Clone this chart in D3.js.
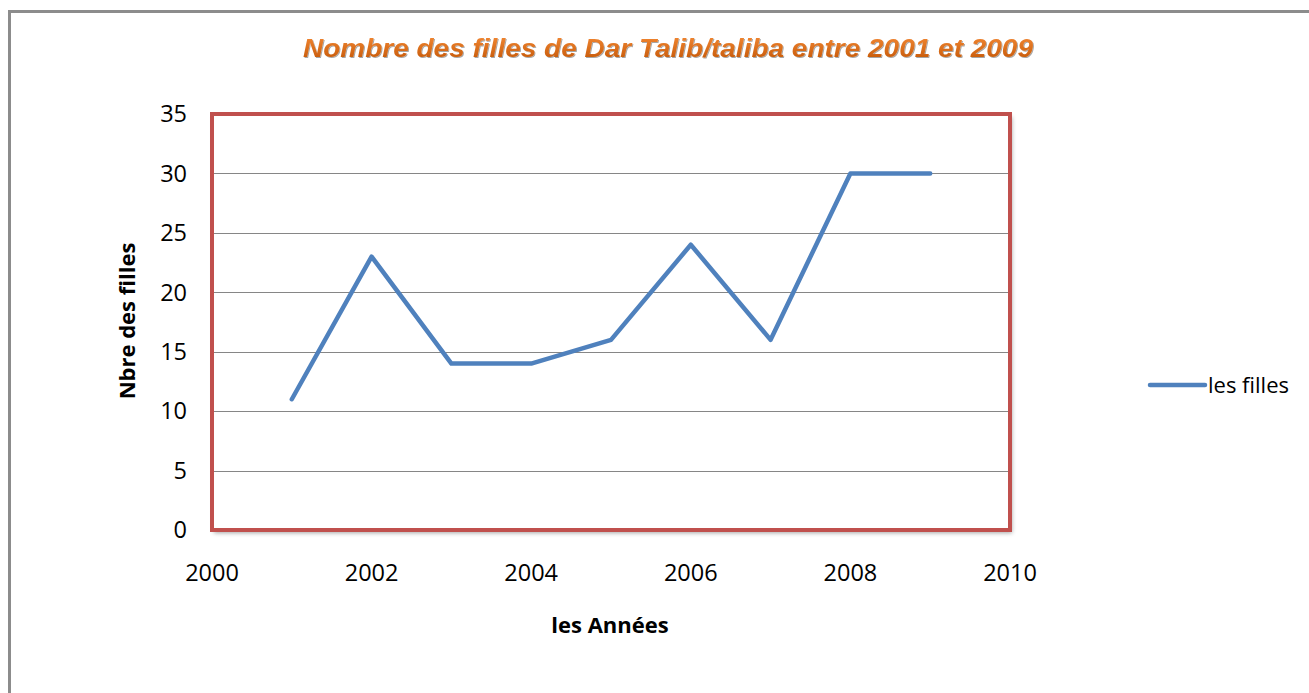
<!DOCTYPE html>
<html>
<head>
<meta charset="utf-8">
<script src="https://cdn.jsdelivr.net/npm/d3@7"></script>
<style>
  body { margin: 0; background: #fff; }
  svg { display: block; }
  .tick-label { font-family: "Open Sans", sans-serif; font-size: 23.5px; fill: #000; }
  .legend-label { font-family: "Open Sans", sans-serif; font-size: 22px; fill: #000; }
  .axis-title { font-family: "Open Sans", sans-serif; font-size: 22px; font-weight: bold; fill: #000; }
</style>
</head>
<body>
<div id="chart"></div>
<script>
// data
var years = [2001, 2002, 2003, 2004, 2005, 2006, 2007, 2008, 2009];
var filles = [11, 23, 14, 14, 16, 24, 16, 30, 30];
var yTicks = [0, 5, 10, 15, 20, 25, 30, 35];
var xTicks = [2000, 2002, 2004, 2006, 2008, 2010];
var seriesName = "les filles";
var titleText = "Nombre des filles de Dar Talib/taliba entre 2001 et 2009";

var width = 1309, height = 693;
var margin = {top: 114, right: 299, bottom: 163, left: 212};
var plotW = width - margin.left - margin.right;
var plotH = height - margin.top - margin.bottom;

var svg = d3.select("#chart").append("svg")
    .attr("width", width)
    .attr("height", height);

var defs = svg.append("defs");
var shadow = defs.append("filter").attr("id", "shadow")
    .attr("x", "-5%").attr("y", "-5%").attr("width", "110%").attr("height", "110%");
shadow.append("feDropShadow")
    .attr("dx", 2).attr("dy", 3).attr("stdDeviation", 2)
    .attr("flood-color", "#000").attr("flood-opacity", 0.35);

var tshadow = defs.append("filter").attr("id", "tshadow");
tshadow.append("feDropShadow")
    .attr("dx", 1).attr("dy", 1).attr("stdDeviation", 0.6)
    .attr("flood-color", "#000").attr("flood-opacity", 0.35);

var grad = defs.append("linearGradient").attr("id", "titleGrad")
    .attr("x1", 0).attr("y1", 0).attr("x2", 0).attr("y2", 1);
grad.append("stop").attr("offset", "0%").attr("stop-color", "#f58a36");
grad.append("stop").attr("offset", "100%").attr("stop-color", "#c25606");

// outer frame of the chart object
svg.append("rect")
    .attr("x", 9.5).attr("y", 11.5)
    .attr("width", width + 20).attr("height", height + 20)
    .attr("fill", "none")
    .attr("stroke", "#8c8c8c")
    .attr("stroke-width", 3);

var xScale = d3.scaleLinear().domain([2000, 2010]).range([0, plotW]);
var yScale = d3.scaleLinear().domain([0, 35]).range([plotH, 0]);

var g = svg.append("g")
    .attr("transform", "translate(" + margin.left + "," + margin.top + ")");

// plot area border with shadow
g.append("rect")
    .attr("x", 0).attr("y", 0)
    .attr("width", plotW).attr("height", plotH)
    .attr("fill", "#fff")
    .attr("filter", "url(#shadow)");

// gridlines
g.selectAll("line.grid")
    .data(yTicks.filter(function(d){ return d > 0 && d < 35; }))
    .enter()
    .append("line")
    .attr("class", "grid")
    .attr("x1", 0)
    .attr("x2", plotW)
    .attr("y1", function(d){ return Math.round(yScale(d)) + 0.5; })
    .attr("y2", function(d){ return Math.round(yScale(d)) + 0.5; })
    .attr("stroke", "#868686")
    .attr("stroke-width", 1);

g.append("rect")
    .attr("x", 0).attr("y", 0)
    .attr("width", plotW).attr("height", plotH)
    .attr("fill", "none")
    .attr("stroke", "#c0504d")
    .attr("stroke-width", 4);

// y tick labels
g.selectAll("text.ytick")
    .data(yTicks)
    .enter()
    .append("text")
    .attr("class", "tick-label ytick")
    .attr("x", -25)
    .attr("y", function(d){ return yScale(d); })
    .attr("dy", "0.35em")
    .attr("text-anchor", "end")
    .text(function(d){ return d; });

// x tick labels
g.selectAll("text.xtick")
    .data(xTicks)
    .enter()
    .append("text")
    .attr("class", "tick-label xtick")
    .attr("x", function(d){ return xScale(d); })
    .attr("y", plotH + 43)
    .attr("dy", "0.35em")
    .attr("text-anchor", "middle")
    .text(function(d){ return d; });

// series line
var pts = years.map(function(y, i){ return [y, filles[i]]; });
var line = d3.line()
    .x(function(d){ return xScale(d[0]); })
    .y(function(d){ return yScale(d[1]); });

g.append("path")
    .datum(pts)
    .attr("d", line)
    .attr("fill", "none")
    .attr("stroke", "#4f81bd")
    .attr("stroke-width", 4.5)
    .attr("stroke-linejoin", "round")
    .attr("stroke-linecap", "round");

// axis titles
svg.append("text")
    .attr("class", "axis-title")
    .attr("x", 610)
    .attr("y", 625)
    .attr("dy", "0.35em")
    .attr("text-anchor", "middle")
    .text("les Années");

svg.append("text")
    .attr("class", "axis-title")
    .attr("transform", "translate(127,321) rotate(-90)")
    .attr("dy", "0.35em")
    .attr("text-anchor", "middle")
    .text("Nbre des filles");

// title
svg.append("text")
    .attr("x", 668)
    .attr("y", 57)
    .attr("text-anchor", "middle")
    .attr("font-family", "'Liberation Sans', Arial, sans-serif")
    .attr("font-size", 25)
    .attr("font-weight", "bold")
    .attr("font-style", "italic")
    .attr("textLength", 730)
    .attr("lengthAdjust", "spacingAndGlyphs")
    .attr("fill", "url(#titleGrad)")
    .attr("filter", "url(#tshadow)")
    .text(titleText);

// legend
var legend = svg.append("g").attr("transform", "translate(1150,385)");
legend.append("line")
    .attr("x1", 0).attr("x2", 55)
    .attr("y1", 0).attr("y2", 0)
    .attr("stroke", "#4f81bd")
    .attr("stroke-width", 4.5)
    .attr("stroke-linecap", "round");
legend.append("text")
    .attr("class", "legend-label")
    .attr("x", 58)
    .attr("y", 0)
    .attr("dy", "0.35em")
    .text(seriesName);
</script>
</body>
</html>
